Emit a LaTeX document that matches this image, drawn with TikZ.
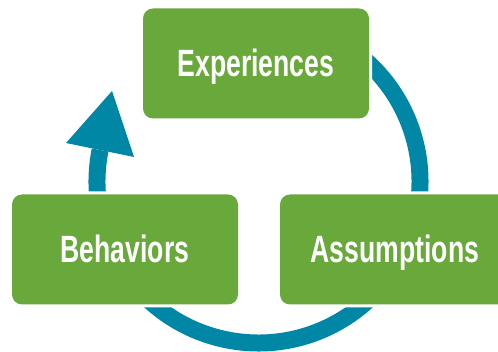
\documentclass[tikz,border=0pt]{standalone}
\usepackage{fontspec}
\setmainfont[FakeStretch=0.70]{Liberation Sans}
\definecolor{boxgreen}{RGB}{105,169,60}
\definecolor{ringteal}{RGB}{0,135,166}
\tikzset{
  stagebox/.style={rectangle, rounded corners=10pt, fill=boxgreen,
    preaction={draw=white, line width=6pt},
    minimum width=226pt, minimum height=110pt, inner sep=0pt, outer sep=0pt,
    text=white, font=\fontsize{38}{42}\selectfont\bfseries,
    text height=27pt, text depth=0pt},
  ring/.style={draw=ringteal, line width=17pt, line cap=butt},
  ringhead/.style={fill=ringteal, draw=none}
}
\begin{document}
\begin{tikzpicture}[x=1pt,y=1pt]
\useasboundingbox (0,0) rectangle (498,352);
\clip (0,0) rectangle (498,352);
\coordinate (c) at (258.5,170.5);
% ring
\draw[ring] (c) ++(168.76:161.5) arc[start angle=168.76, end angle=430, radius=161.5];
\coordinate (tip) at (112,261);
\coordinate (hl) at (66,209);
\coordinate (hr) at (134,195);
\fill[ringhead] (hl) -- (tip) -- (hr) -- cycle;
% boxes
\node[stagebox] (exp) at (256,288.5) {Experiences};
\node[stagebox] (beh) at (125,102.5) {Behaviors};
\node[stagebox, minimum width=230pt] (ass) at (395,102.5) {Assumptions};
\end{tikzpicture}
\end{document}
